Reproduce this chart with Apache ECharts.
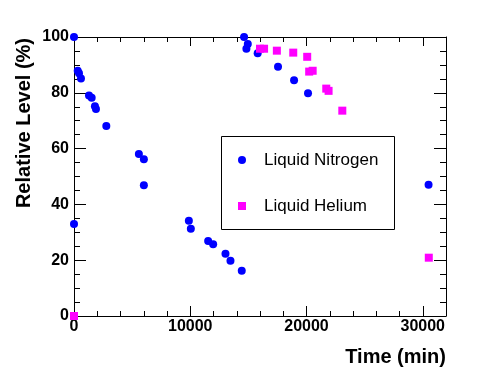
<!DOCTYPE html>
<html>
<head>
<meta charset="utf-8">
<script src="https://cdn.jsdelivr.net/npm/echarts@6/dist/echarts.min.js"></script>
<style>
html,body{margin:0;padding:0;background:#fff;}
#chart{width:496px;height:372px;}
</style>
</head>
<body>
<div id="chart"></div>
<script>
// ---- data ----
var nitrogenTime  = [0, 0, 320, 430, 600, 1290, 1520, 1800, 1890, 2780, 5580, 6010, 6010, 9880, 10050, 11540, 11970, 13030, 13460, 14430, 14630, 14830, 14950, 15800, 17550, 18930, 20130, 30500];
var nitrogenLevel = [100, 33, 87.9, 87.0, 85.1, 79.0, 78.2, 75.2, 74.2, 68.1, 58.1, 56.2, 46.9, 34.1, 31.3, 26.9, 25.7, 22.3, 19.8, 16.2, 100, 95.8, 97.5, 94.2, 89.3, 84.5, 79.8, 47.0];
var heliumTime  = [0, 16000, 16350, 17450, 18860, 20060, 20230, 20530, 21700, 21900, 23080, 30520];
var heliumLevel = [0, 95.8, 95.8, 95.1, 94.4, 92.9, 87.6, 87.9, 81.5, 80.7, 73.6, 20.9];
var xTicks = [0, 10000, 20000, 30000];
var yTicks = [0, 20, 40, 60, 80, 100];
var seriesNames = ['Liquid Nitrogen', 'Liquid Helium'];

function pairs(a, b) { return a.map(function (v, i) { return [v, b[i]]; }); }

var FONT = '"Liberation Sans", Arial, Helvetica, sans-serif';
var chart = echarts.init(document.getElementById('chart'), null, {renderer: 'canvas'});

var xMin = 0, xMax = 32000, yMin = 0, yMax = 100;
function xAxisCfg(pos, labels, majorLen, minorLen) {
  return {
    type: 'value', position: pos, min: xMin, max: xMax, interval: 10000,
    axisLine: {show: true, onZero: false, lineStyle: {color: '#000', width: 1}},
    axisTick: {show: true, inside: true, length: majorLen, lineStyle: {color: '#000'}},
    minorTick: {show: true, splitNumber: 5, length: minorLen, lineStyle: {color: '#000'}},
    splitLine: {show: false},
    axisLabel: {show: labels, color: '#000', fontFamily: FONT, fontWeight: 'bold', fontSize: 16, margin: 3,
      showMaxLabel: false,
      formatter: function (v) { return xTicks.indexOf(v) >= 0 ? String(v) : ''; }}
  };
}
function yAxisCfg(pos, labels, majorLen, minorLen) {
  return {
    type: 'value', position: pos, min: yMin, max: yMax, interval: 20,
    axisLine: {show: true, onZero: false, lineStyle: {color: '#000', width: 1}},
    axisTick: {show: true, inside: true, length: majorLen, lineStyle: {color: '#000'}},
    minorTick: {show: true, splitNumber: 4, length: minorLen, lineStyle: {color: '#000'}},
    splitLine: {show: false},
    axisLabel: {show: labels, color: '#000', fontFamily: FONT, fontWeight: 'bold', fontSize: 16, margin: 5,
      formatter: function (v) { return yTicks.indexOf(v) >= 0 ? String(v) : ''; }}
  };
}

chart.setOption({
  animation: false,
  backgroundColor: '#fff',
  grid: {left: 74, top: 37, right: 50, bottom: 56, containLabel: false},
  xAxis: [xAxisCfg('bottom', true, 10, 5), xAxisCfg('top', false, 9, 5)],
  yAxis: [yAxisCfg('left', true, 12, 6), yAxisCfg('right', false, 12, 6)],
  legend: {
    orient: 'vertical', left: 238, top: 150, padding: 0,
    itemWidth: 8, itemHeight: 8, itemGap: 26,
    textStyle: {fontFamily: FONT, fontSize: 17, color: '#000', lineHeight: 20, padding: [0, 0, 0, 13]},
    data: [{name: seriesNames[0], icon: 'circle'}, {name: seriesNames[1], icon: 'rect'}]
  },
  graphic: [
    {type: 'rect', shape: {x: 221.5, y: 136.5, width: 173, height: 93}, style: {fill: 'none', stroke: '#000', lineWidth: 1}, z: 5},
    {type: 'text', x: 446, y: 347, style: {text: 'Time (min)', font: 'bold 20px ' + FONT, fill: '#000', textAlign: 'right', textVerticalAlign: 'top'}},
    {type: 'text', x: 24, y: 38, rotation: Math.PI / 2, style: {text: 'Relative Level (%)', font: 'bold 20px ' + FONT, fill: '#000', textAlign: 'right', textVerticalAlign: 'middle'}}
  ],
  series: [
    {name: seriesNames[0], type: 'scatter', clip: false, symbol: 'circle', symbolSize: 8,
     itemStyle: {color: '#0000ff', opacity: 1}, data: pairs(nitrogenTime, nitrogenLevel)},
    {name: seriesNames[1], type: 'scatter', clip: false, symbol: 'rect', symbolSize: 8,
     itemStyle: {color: '#ff00ff', opacity: 1}, data: pairs(heliumTime, heliumLevel)}
  ]
});
</script>
</body>
</html>
